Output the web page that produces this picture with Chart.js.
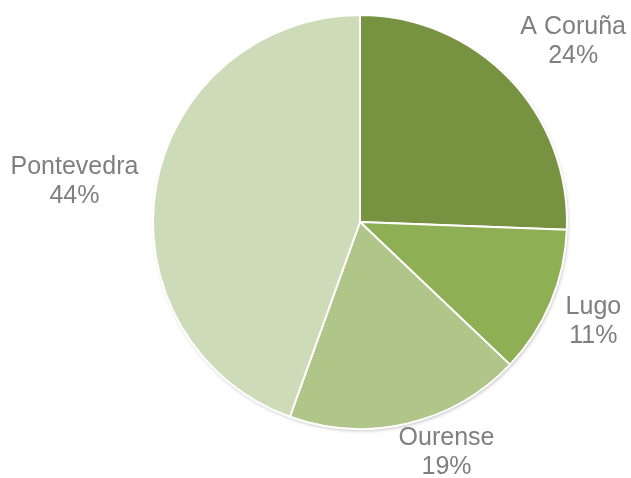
<!DOCTYPE html>
<html>
<head>
<meta charset="utf-8">
<script src="https://cdn.jsdelivr.net/npm/chart.js@4/dist/chart.umd.min.js"></script>
<style>
  html, body { margin: 0; padding: 0; background: #fff; }
  #wrap { width: 631px; height: 478px; }
</style>
</head>
<body>
<div id="wrap"><canvas id="pie"></canvas></div>
<script>
'use strict'
var provincias = ['A Coruña', 'Lugo', 'Ourense', 'Pontevedra'];
var valores = [25.6, 11.5, 18.4, 44.5];
var porcentajes = ['24%', '11%', '19%', '44%'];
var colores = ['#779240', '#8FAF55', '#AFC688', '#CDDBB9'];

// sombra suave detras del circulo
var sombra = {
  id: 'sombra',
  beforeDatasetsDraw: function(chart){
    var arc = chart.getDatasetMeta(0).data[0];
    if (!arc) return;
    var ctx = chart.ctx;
    ctx.save();
    ctx.shadowColor = 'rgba(0,0,0,0.35)';
    ctx.shadowBlur = 4;
    ctx.shadowOffsetX = 1;
    ctx.shadowOffsetY = 2;
    ctx.fillStyle = '#fff';
    ctx.beginPath();
    ctx.arc(arc.x, arc.y, arc.outerRadius - 1, 0, Math.PI * 2);
    ctx.fill();
    ctx.restore();
  }
};

// etiquetas fuera del circulo: nombre + porcentaje
var etiquetas = {
  id: 'etiquetas',
  afterDatasetsDraw: function(chart, args, opts){
    var ctx = chart.ctx;
    var meta = chart.getDatasetMeta(0);
    ctx.save();
    ctx.font = '25px "Liberation Sans", Arial, sans-serif';
    ctx.fillStyle = '#7F7F7F';
    ctx.textAlign = 'center';
    ctx.textBaseline = 'middle';
    meta.data.forEach(function(arc, i){
      var mid = (arc.startAngle + arc.endAngle) / 2;
      var dx = Math.cos(mid), dy = Math.sin(mid);
      var w = Math.max(ctx.measureText(provincias[i]).width, ctx.measureText(porcentajes[i]).width);
      var hw = w / 2, hh = opts.lineH;
      var r = arc.outerRadius + opts.pad;
      var nud = opts.nudge[i] || [0, 0];
      var cx = arc.x + dx * r + dx * hw + nud[0];
      var cy = arc.y + dy * r + dy * hh + nud[1];
      ctx.fillText(provincias[i], cx, cy - opts.lineH / 2);
      ctx.fillText(porcentajes[i], cx, cy + opts.lineH / 2);
    });
    ctx.restore();
  }
};

var chart = new Chart(document.getElementById('pie'), {
  type: 'pie',
  data: {
    labels: provincias,
    datasets: [{
      data: valores,
      backgroundColor: colores,
      borderColor: '#FFFFFF',
      borderWidth: 2
    }]
  },
  options: {
    responsive: true,
    maintainAspectRatio: false,
    animation: false,
    layout: { padding: { left: 152, right: 63, top: 14, bottom: 48 } },
    plugins: {
      legend: { display: false },
      tooltip: { enabled: false },
      etiquetas: {
        pad: 25,
        lineH: 29,
        nudge: [[8, 1], [-6, -2], [22, -23], [6, 4]]
      }
    }
  },
  plugins: [sombra, etiquetas]
});
</script>
</body>
</html>
